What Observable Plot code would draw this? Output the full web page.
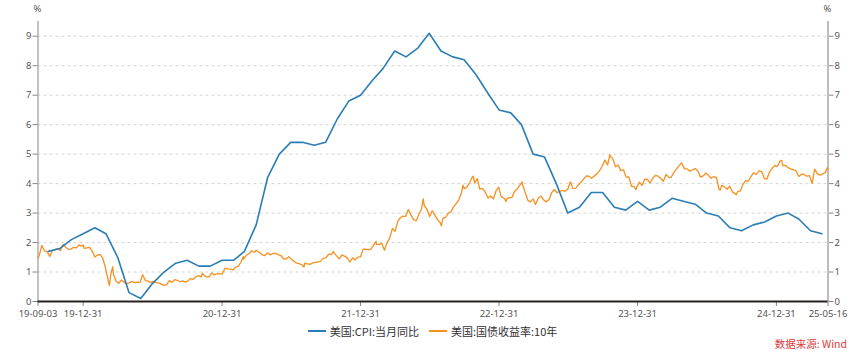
<!DOCTYPE html>
<html>
<head>
<meta charset="utf-8">
<script src="https://cdn.jsdelivr.net/npm/d3@7"></script>
<script src="https://cdn.jsdelivr.net/npm/@observablehq/plot@0.6"></script>
<style>
  body { margin: 0; background: #fff; }
  #wrap { position: relative; width: 865px; height: 356px; font-family: "Noto Sans", "Noto Sans CJK SC", sans-serif; }
  .pct { position: absolute; top: 2px; font-size: 9.5px; color: #555; transform: translateX(-50%); }
  #legend { position: absolute; top: 320px; left: 0; width: 865px; text-align: center; font-size: 11px; color: #333; font-family: "Noto Sans CJK SC", sans-serif; }
  #legend span.item { display: inline-flex; align-items: center; margin: 0 5px; }
  #legend svg { margin-right: 4px; }
  #caption { position: absolute; top: 336px; right: 18px; font-size: 10.5px; color: #e03a3a; font-family: "Noto Sans CJK SC", sans-serif; }
</style>
</head>
<body>
<div id="wrap">
  <div id="chart"></div>
  <span class="pct" style="left:37.5px">%</span>
  <span class="pct" style="left:827.5px">%</span>
  <div id="legend"></div>
  <div id="caption">数据来源: Wind</div>
</div>
<script>
// ---- Series names & colours ----
const seriesNames = ["美国:CPI:当月同比", "美国:国债收益率:10年"];
const seriesColors = ["#2a7db5", "#f7901e"];

// ---- US CPI YoY (%), month-end, 2019-09 .. 2025-04 ----
const cpiStartMonth = "2019-09";
const cpiValues = [
  1.7, 1.8, 2.1, 2.3,                                         // 2019 Sep-Dec
  2.5, 2.3, 1.5, 0.3, 0.1, 0.6, 1.0, 1.3, 1.4, 1.2, 1.2, 1.4, // 2020
  1.4, 1.7, 2.6, 4.2, 5.0, 5.4, 5.4, 5.3, 5.4, 6.2, 6.8, 7.0, // 2021
  7.5, 7.9, 8.5, 8.3, 8.6, 9.1, 8.5, 8.3, 8.2, 7.7, 7.1, 6.5, // 2022
  6.4, 6.0, 5.0, 4.9, 4.0, 3.0, 3.2, 3.7, 3.7, 3.2, 3.1, 3.4, // 2023
  3.1, 3.2, 3.5, 3.4, 3.3, 3.0, 2.9, 2.5, 2.4, 2.6, 2.7, 2.9, // 2024
  3.0, 2.8, 2.4, 2.3                                          // 2025 Jan-Apr
];

// ---- US 10Y Treasury yield (%) ----
const ust2019 = [["09-03",1.47],["09-06",1.55],["09-13",1.90],["09-20",1.72],["09-27",1.69],["10-04",1.53],["10-11",1.73],["10-18",1.76],["10-25",1.80],["11-01",1.73],["11-08",1.94],["11-15",1.84],["11-22",1.77],["11-29",1.78],["12-06",1.84],["12-13",1.82],["12-20",1.92],["12-27",1.88],["12-31",1.92]];
const ust2020 = [["01-03",1.80],["01-10",1.82],["01-17",1.84],["01-24",1.70],["01-31",1.51],["02-07",1.58],["02-14",1.59],["02-21",1.46],["02-28",1.13],["03-06",0.71],["03-09",0.54],["03-13",0.94],["03-18",1.18],["03-20",0.92],["03-27",0.68],["04-03",0.62],["04-10",0.73],["04-17",0.65],["04-24",0.60],["05-01",0.64],["05-08",0.68],["05-15",0.64],["05-22",0.66],["05-29",0.65],["06-05",0.91],["06-12",0.71],["06-19",0.69],["06-26",0.64],["07-03",0.68],["07-10",0.64],["07-17",0.63],["07-24",0.59],["07-31",0.55],["08-07",0.57],["08-14",0.71],["08-21",0.65],["08-28",0.74],["09-04",0.72],["09-11",0.67],["09-18",0.70],["09-25",0.66],["10-02",0.70],["10-09",0.78],["10-16",0.75],["10-23",0.84],["10-30",0.88],["11-06",0.83],["11-09",0.96],["11-13",0.90],["11-20",0.83],["11-27",0.84],["12-04",0.97],["12-11",0.90],["12-18",0.95],["12-24",0.94],["12-31",0.93]];
const ust2021 = [["01-08",1.13],["01-15",1.11],["01-22",1.10],["01-29",1.07],["02-05",1.17],["02-12",1.20],["02-19",1.34],["02-25",1.52],["02-26",1.44],["03-05",1.57],["03-12",1.62],["03-19",1.72],["03-26",1.67],["03-31",1.74],["04-09",1.66],["04-16",1.58],["04-23",1.56],["04-30",1.65],["05-07",1.58],["05-14",1.63],["05-21",1.63],["05-28",1.59],["06-04",1.56],["06-11",1.45],["06-18",1.44],["06-25",1.52],["07-02",1.43],["07-09",1.36],["07-16",1.30],["07-23",1.28],["07-30",1.24],["08-04",1.17],["08-06",1.30],["08-13",1.28],["08-20",1.26],["08-27",1.31],["09-03",1.33],["09-10",1.34],["09-17",1.37],["09-24",1.47],["10-01",1.48],["10-08",1.61],["10-15",1.59],["10-21",1.70],["10-22",1.65],["10-29",1.55],["11-05",1.45],["11-12",1.58],["11-19",1.54],["11-26",1.48],["12-03",1.34],["12-10",1.48],["12-17",1.41],["12-23",1.50],["12-31",1.52]];
const ust2022 = [["01-07",1.77],["01-14",1.78],["01-21",1.75],["01-28",1.78],["02-04",1.93],["02-10",2.04],["02-11",1.94],["02-18",1.93],["02-25",1.97],["03-04",1.74],["03-11",2.00],["03-18",2.15],["03-25",2.48],["04-01",2.38],["04-08",2.72],["04-14",2.83],["04-22",2.90],["04-29",2.89],["05-06",3.12],["05-13",2.93],["05-20",2.78],["05-27",2.74],["06-03",2.96],["06-10",3.15],["06-14",3.48],["06-17",3.25],["06-24",3.13],["07-01",2.88],["07-08",3.08],["07-15",2.93],["07-22",2.77],["07-29",2.67],["08-01",2.57],["08-05",2.83],["08-12",2.85],["08-19",2.99],["08-26",3.04],["09-02",3.20],["09-09",3.32],["09-16",3.45],["09-23",3.69],["09-27",3.95],["09-30",3.83],["10-07",3.88],["10-14",4.02],["10-21",4.21],["10-24",4.25],["10-28",4.02],["11-04",4.17],["11-10",3.82],["11-18",3.83],["11-25",3.70],["12-02",3.51],["12-09",3.58],["12-16",3.48],["12-23",3.75],["12-30",3.88]];
const ust2023 = [["01-06",3.56],["01-13",3.51],["01-19",3.39],["01-20",3.48],["01-27",3.52],["02-03",3.53],["02-10",3.74],["02-17",3.82],["02-24",3.95],["03-02",4.06],["03-03",3.96],["03-10",3.70],["03-17",3.43],["03-24",3.38],["03-31",3.48],["04-06",3.29],["04-14",3.52],["04-21",3.57],["04-28",3.44],["05-04",3.38],["05-12",3.46],["05-19",3.70],["05-26",3.80],["06-02",3.69],["06-09",3.74],["06-16",3.77],["06-23",3.74],["06-30",3.81],["07-07",4.06],["07-14",3.83],["07-21",3.84],["07-28",3.96],["08-04",4.05],["08-11",4.16],["08-18",4.26],["08-25",4.25],["09-01",4.18],["09-08",4.26],["09-15",4.33],["09-22",4.44],["09-29",4.59],["10-06",4.80],["10-13",4.63],["10-19",4.98],["10-20",4.93],["10-27",4.84],["11-03",4.57],["11-10",4.63],["11-17",4.44],["11-24",4.47],["12-01",4.22],["12-08",4.23],["12-15",3.91],["12-22",3.90],["12-27",3.79],["12-29",3.88]];
const ust2024 = [["01-05",4.05],["01-12",3.94],["01-19",4.15],["01-26",4.14],["02-02",4.02],["02-09",4.18],["02-16",4.28],["02-23",4.25],["03-01",4.18],["03-08",4.08],["03-15",4.31],["03-22",4.22],["03-28",4.20],["04-05",4.38],["04-12",4.50],["04-19",4.62],["04-25",4.70],["05-03",4.50],["05-10",4.50],["05-17",4.42],["05-24",4.47],["05-31",4.51],["06-07",4.43],["06-14",4.22],["06-21",4.26],["06-28",4.36],["07-05",4.28],["07-12",4.18],["07-19",4.24],["07-26",4.20],["08-02",3.80],["08-05",3.78],["08-09",3.94],["08-16",3.89],["08-23",3.81],["08-30",3.91],["09-06",3.72],["09-13",3.66],["09-16",3.62],["09-20",3.73],["09-27",3.75],["10-04",3.98],["10-11",4.10],["10-18",4.08],["10-25",4.24],["11-01",4.37],["11-08",4.31],["11-15",4.43],["11-22",4.41],["11-29",4.18],["12-06",4.15],["12-13",4.40],["12-20",4.52],["12-27",4.62],["12-31",4.58]];
const ust2025 = [["01-03",4.60],["01-10",4.77],["01-14",4.79],["01-17",4.61],["01-24",4.62],["01-31",4.54],["02-07",4.49],["02-14",4.47],["02-21",4.43],["02-28",4.24],["03-07",4.32],["03-14",4.31],["03-21",4.25],["03-28",4.27],["04-04",4.01],["04-11",4.49],["04-18",4.33],["04-25",4.29],["05-02",4.33],["05-09",4.38],["05-14",4.54],["05-16",4.48]];

// ---- Axis settings ----
const xDomainLabels = ["2019-09-03", "2025-05-16"];
const xTickLabels = ["2019-09-03", "2019-12-31", "2020-12-31", "2021-12-31", "2022-12-31", "2023-12-31", "2024-12-31", "2025-05-16"];
const yDomain = [0, 9.5];
const yTicks = [0, 1, 2, 3, 4, 5, 6, 7, 8, 9];

// ---- Build tables ----
const parse = d3.utcParse("%Y-%m-%d");
const cpiStart = d3.utcParse("%Y-%m")(cpiStartMonth);
const cpi = cpiValues.map((v, i) => ({
  date: d3.utcDay.offset(d3.utcMonth.offset(cpiStart, i + 1), -1), // month end
  value: v
}));
const ustYears = [[2019, ust2019], [2020, ust2020], [2021, ust2021], [2022, ust2022], [2023, ust2023], [2024, ust2024], [2025, ust2025]];
const ust = ustYears.flatMap(([y, arr]) => arr.map(([md, v]) => ({date: parse(`${y}-${md}`), value: v})));
const xDomain = xDomainLabels.map(parse);
const xTicks = xTickLabels.map(parse);

const chart = Plot.plot({
  width: 865,
  height: 322,
  marginLeft: 37.5,
  marginRight: 37.5,
  marginTop: 21,
  marginBottom: 21,
  style: {fontFamily: '"Noto Sans", "Noto Sans CJK SC", sans-serif', fontSize: "9.5px", color: "#555", background: "#fff", overflow: "visible"},
  x: {type: "utc", domain: xDomain},
  y: {domain: yDomain},
  marks: [
    Plot.gridY(yTicks.filter(d => d > 0), {stroke: "#d4d4d4", strokeOpacity: 1, strokeDasharray: "3,3"}),
    Plot.axisY(yTicks, {anchor: "left", tickSize: 5, tickPadding: 1.5, label: null, stroke: "#888"}),
    Plot.axisY(yTicks, {anchor: "right", tickSize: 5, tickPadding: 1.5, label: null, stroke: "#888"}),
    Plot.axisX(xTicks, {tickFormat: d3.utcFormat("%y-%m-%d"), tickSize: 5, tickPadding: 4, label: null, stroke: "#888"}),
    Plot.ruleX([xDomain[0]], {stroke: "#9a9a9a", strokeWidth: 1.2}),
    Plot.ruleX([xDomain[1]], {stroke: "#bdbdbd", strokeWidth: 2}),
    Plot.lineY(ust, {x: "date", y: "value", stroke: seriesColors[1], strokeWidth: 1.3}),
    Plot.lineY(cpi, {x: "date", y: "value", stroke: seriesColors[0], strokeWidth: 1.6}),
    Plot.ruleY([0], {stroke: "#2a2020", strokeWidth: 2})
  ]
});
document.getElementById("chart").appendChild(chart);

// ---- Legend ----
const legend = document.getElementById("legend");
seriesNames.forEach((name, i) => {
  const item = document.createElement("span");
  item.className = "item";
  item.innerHTML = `<svg width="18" height="4"><line x1="0" y1="2" x2="18" y2="2" stroke="${seriesColors[i]}" stroke-width="2"/></svg>${name}`;
  legend.appendChild(item);
});
</script>
</body>
</html>
